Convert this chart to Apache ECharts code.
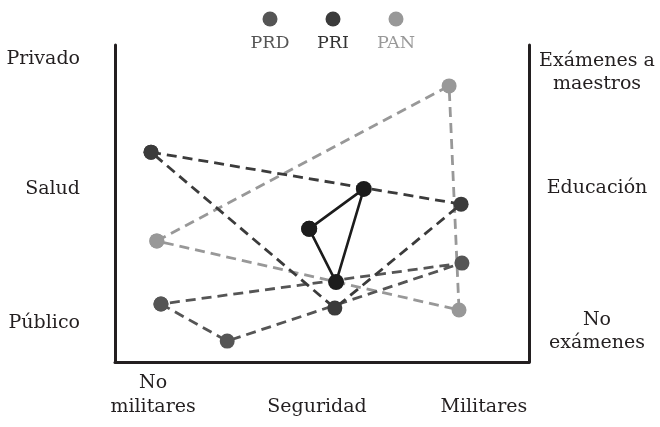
<!DOCTYPE html>
<html>
<head>
<meta charset="utf-8">
<script src="https://cdn.jsdelivr.net/npm/echarts@6/dist/echarts.min.js"></script>
<style>
  html, body { margin: 0; padding: 0; background: #fff; }
  #chart { width: 660px; height: 427px; }
</style>
</head>
<body>
<div id="chart"></div>
<script>
// party triangles, each is 3 points (x, y on a 0-100 scale)
const priX = [8.7, 83.6, 53.1]
const priY = [66.2, 49.8, 17.0]
const prdX = [11.1, 27.1, 83.8]
const prdY = [18.3, 6.6, 31.2]
const panX = [10.1, 80.7, 83.1]
const panY = [38.2, 87.1, 16.4]
const votX = [46.9, 60.1, 53.4]
const votY = [42.0, 54.6, 25.2]

// axis labels
const leftLabels = ['Privado', 'Salud', 'Público']
const rightLabels = ['Exámenes a\nmaestros', 'Educación', 'No\nexámenes']
const bottomLabels = ['No\nmilitares', 'Seguridad', 'Militares']
const legendNames = ['PRD', 'PRI', 'PAN']

// where the labels sit on each axis
const leftAt = [95.6, 54.6, 12.3]
const rightAt = [91.2, 54.9, 9.6]
const bottomAt = [9.2, 48.8, 89.1]

const font = 'DejaVu Serif'
const ink = '#231f20'
const colors = { PRD: '#555555', PRI: '#3b3b3b', PAN: '#989898', votantes: '#1c1c1c' }
const textColors = { PRD: '#555555', PRI: '#333333', PAN: '#999999' }

function triangle(xs, ys) {
  const pts = xs.map((x, i) => [x, ys[i]])
  pts.push(pts[0])
  return pts
}

function lineSeries(name, xs, ys, dashed, z) {
  return {
    name: name,
    type: 'line',
    data: triangle(xs, ys),
    symbol: 'circle',
    symbolSize: dashed ? 15 : 16,
    z: z,
    silent: true,
    itemStyle: { color: colors[name], opacity: 1 },
    lineStyle: {
      color: colors[name],
      width: dashed ? 2.8 : 2.6,
      type: dashed ? [10, 6] : 'solid'
    },
    animation: false
  }
}

function pickLabel(labels, at) {
  return v => {
    const i = at.findIndex(a => Math.abs(a - v) < 1e-6)
    return i < 0 ? '' : labels[i]
  }
}

const axisLine = { show: true, lineStyle: { color: ink, width: 3 } }

const legendX = [270, 333, 396]
const legendGraphic = []
legendNames.forEach((name, i) => {
  legendGraphic.push({
    type: 'circle',
    shape: { cx: legendX[i], cy: 19, r: 7.5 },
    style: { fill: colors[name] }
  })
  legendGraphic.push({
    type: 'text',
    x: legendX[i],
    y: 43,
    style: {
      text: name,
      fill: textColors[name],
      font: '17.5px "' + font + '"',
      textAlign: 'center',
      textVerticalAlign: 'middle'
    }
  })
})

const chart = echarts.init(document.getElementById('chart'), null, { renderer: 'canvas' })
chart.setOption({
  backgroundColor: '#fff',
  animation: false,
  grid: { left: 115, right: 131, top: 45, bottom: 65 },
  xAxis: {
    type: 'value',
    min: 0,
    max: 100,
    axisLine: axisLine,
    axisTick: { show: false },
    splitLine: { show: false },
    axisLabel: {
      customValues: bottomAt,
      formatter: pickLabel(bottomLabels, bottomAt),
      fontFamily: font,
      fontSize: 19,
      color: ink,
      lineHeight: 24,
      verticalAlign: 'bottom',
      margin: 57
    }
  },
  yAxis: [
    {
      type: 'value',
      min: 0,
      max: 100,
      position: 'left',
      axisLine: axisLine,
      axisTick: { show: false },
      splitLine: { show: false },
      axisLabel: {
        customValues: leftAt,
        formatter: pickLabel(leftLabels, leftAt),
        fontFamily: font,
        fontSize: 19,
        color: ink,
        margin: 35
      }
    },
    {
      type: 'value',
      min: 0,
      max: 100,
      position: 'right',
      axisLine: axisLine,
      axisTick: { show: false },
      splitLine: { show: false },
      axisLabel: {
        customValues: rightAt,
        formatter: pickLabel(rightLabels, rightAt),
        fontFamily: font,
        fontSize: 19,
        color: ink,
        lineHeight: 23,
        align: 'center',
        margin: 68
      }
    }
  ],
  series: [
    lineSeries('PAN', panX, panY, true, 2),
    lineSeries('PRD', prdX, prdY, true, 3),
    lineSeries('PRI', priX, priY, true, 4),
    lineSeries('votantes', votX, votY, false, 5)
  ],
  graphic: legendGraphic
})
</script>
</body>
</html>
